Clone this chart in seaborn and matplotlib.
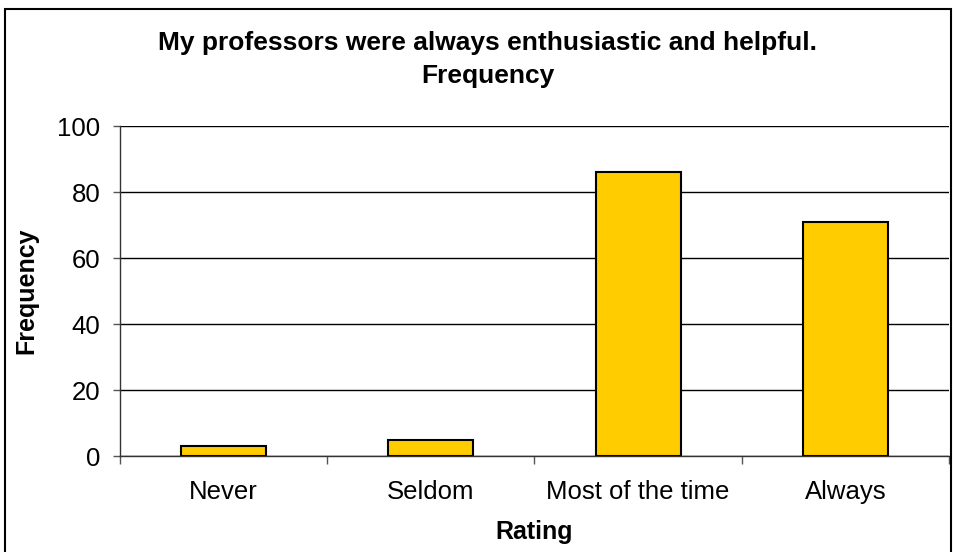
import numpy as np
import pandas as pd
import matplotlib
matplotlib.use("Agg")
import matplotlib.pyplot as plt
import seaborn as sns
from matplotlib.patches import Rectangle

# dados
ratings = ["Never", "Seldom", "Most of the time", "Always"]
frequency = [3, 5, 86, 71]
y_ticks = [0, 20, 40, 60, 80, 100]
title_lines = ["My professors were always enthusiastic and helpful.", "Frequency"]

sns.set_style("white")
plt.rcParams['font.family'] = ['Liberation Sans', 'DejaVu Sans']
plt.rcParams['text.color'] = 'black'
plt.rcParams['axes.labelcolor'] = 'black'
plt.rcParams['xtick.labelcolor'] = 'black'
plt.rcParams['ytick.labelcolor'] = 'black'

W, H = 954, 552
fig = plt.figure(figsize=(W / 100, H / 100), dpi=100)
ax = fig.add_axes([120 / W, 1 - 456 / H, (949 - 120) / W, (456 - 126) / H])

df = pd.DataFrame({"Rating": ratings, "Frequency": frequency})
sns.barplot(data=df, x="Rating", y="Frequency", order=ratings,
            color="#FFCC00", saturation=1, width=0.41,
            edgecolor="black", linewidth=1.5, ax=ax)

ax.set_xlim(-0.5, len(ratings) - 0.5)
ax.set_ylim(0, 100)
ax.set_yticks(y_ticks)
ax.yaxis.grid(True, color="black", linewidth=1)
ax.set_axisbelow(True)

# ticks do eixo x nos limites das categorias
ax.set_xticks(np.arange(len(ratings)))
ax.set_xticklabels(ratings)
ax.set_xticks(np.arange(len(ratings) + 1) - 0.5, minor=True)
ax.tick_params(axis="x", which="major", length=0, pad=17, labelsize=18.5)
ax.tick_params(axis="x", which="minor", length=6, width=1, color="#555555", direction="out")
ax.tick_params(axis="y", length=5, width=1, color="#555555", direction="out", pad=9, labelsize=18.5)
ax.tick_params(bottom=True, left=True, which="both")

for s in ["top", "right"]:
    ax.spines[s].set_visible(False)
for s in ["left", "bottom"]:
    ax.spines[s].set_color("#333333")
    ax.spines[s].set_linewidth(1)

ax.set_xlabel("Rating", fontsize=18, fontweight="bold", labelpad=12)
ax.set_ylabel("Frequency", fontsize=18, fontweight="bold", labelpad=14)

fig.text(488 / W, 1 - 31 / H, "\n".join(title_lines), ha="center", va="top",
         fontsize=19, fontweight="bold", linespacing=1.45)

# borda do gráfico
fig.patches.append(Rectangle((5 / W, -0.02), (951 - 5) / W, 1.02 - 9 / H,
                             transform=fig.transFigure, fill=False,
                             edgecolor="black", linewidth=1.5))

fig.savefig("out.png", dpi=100)
